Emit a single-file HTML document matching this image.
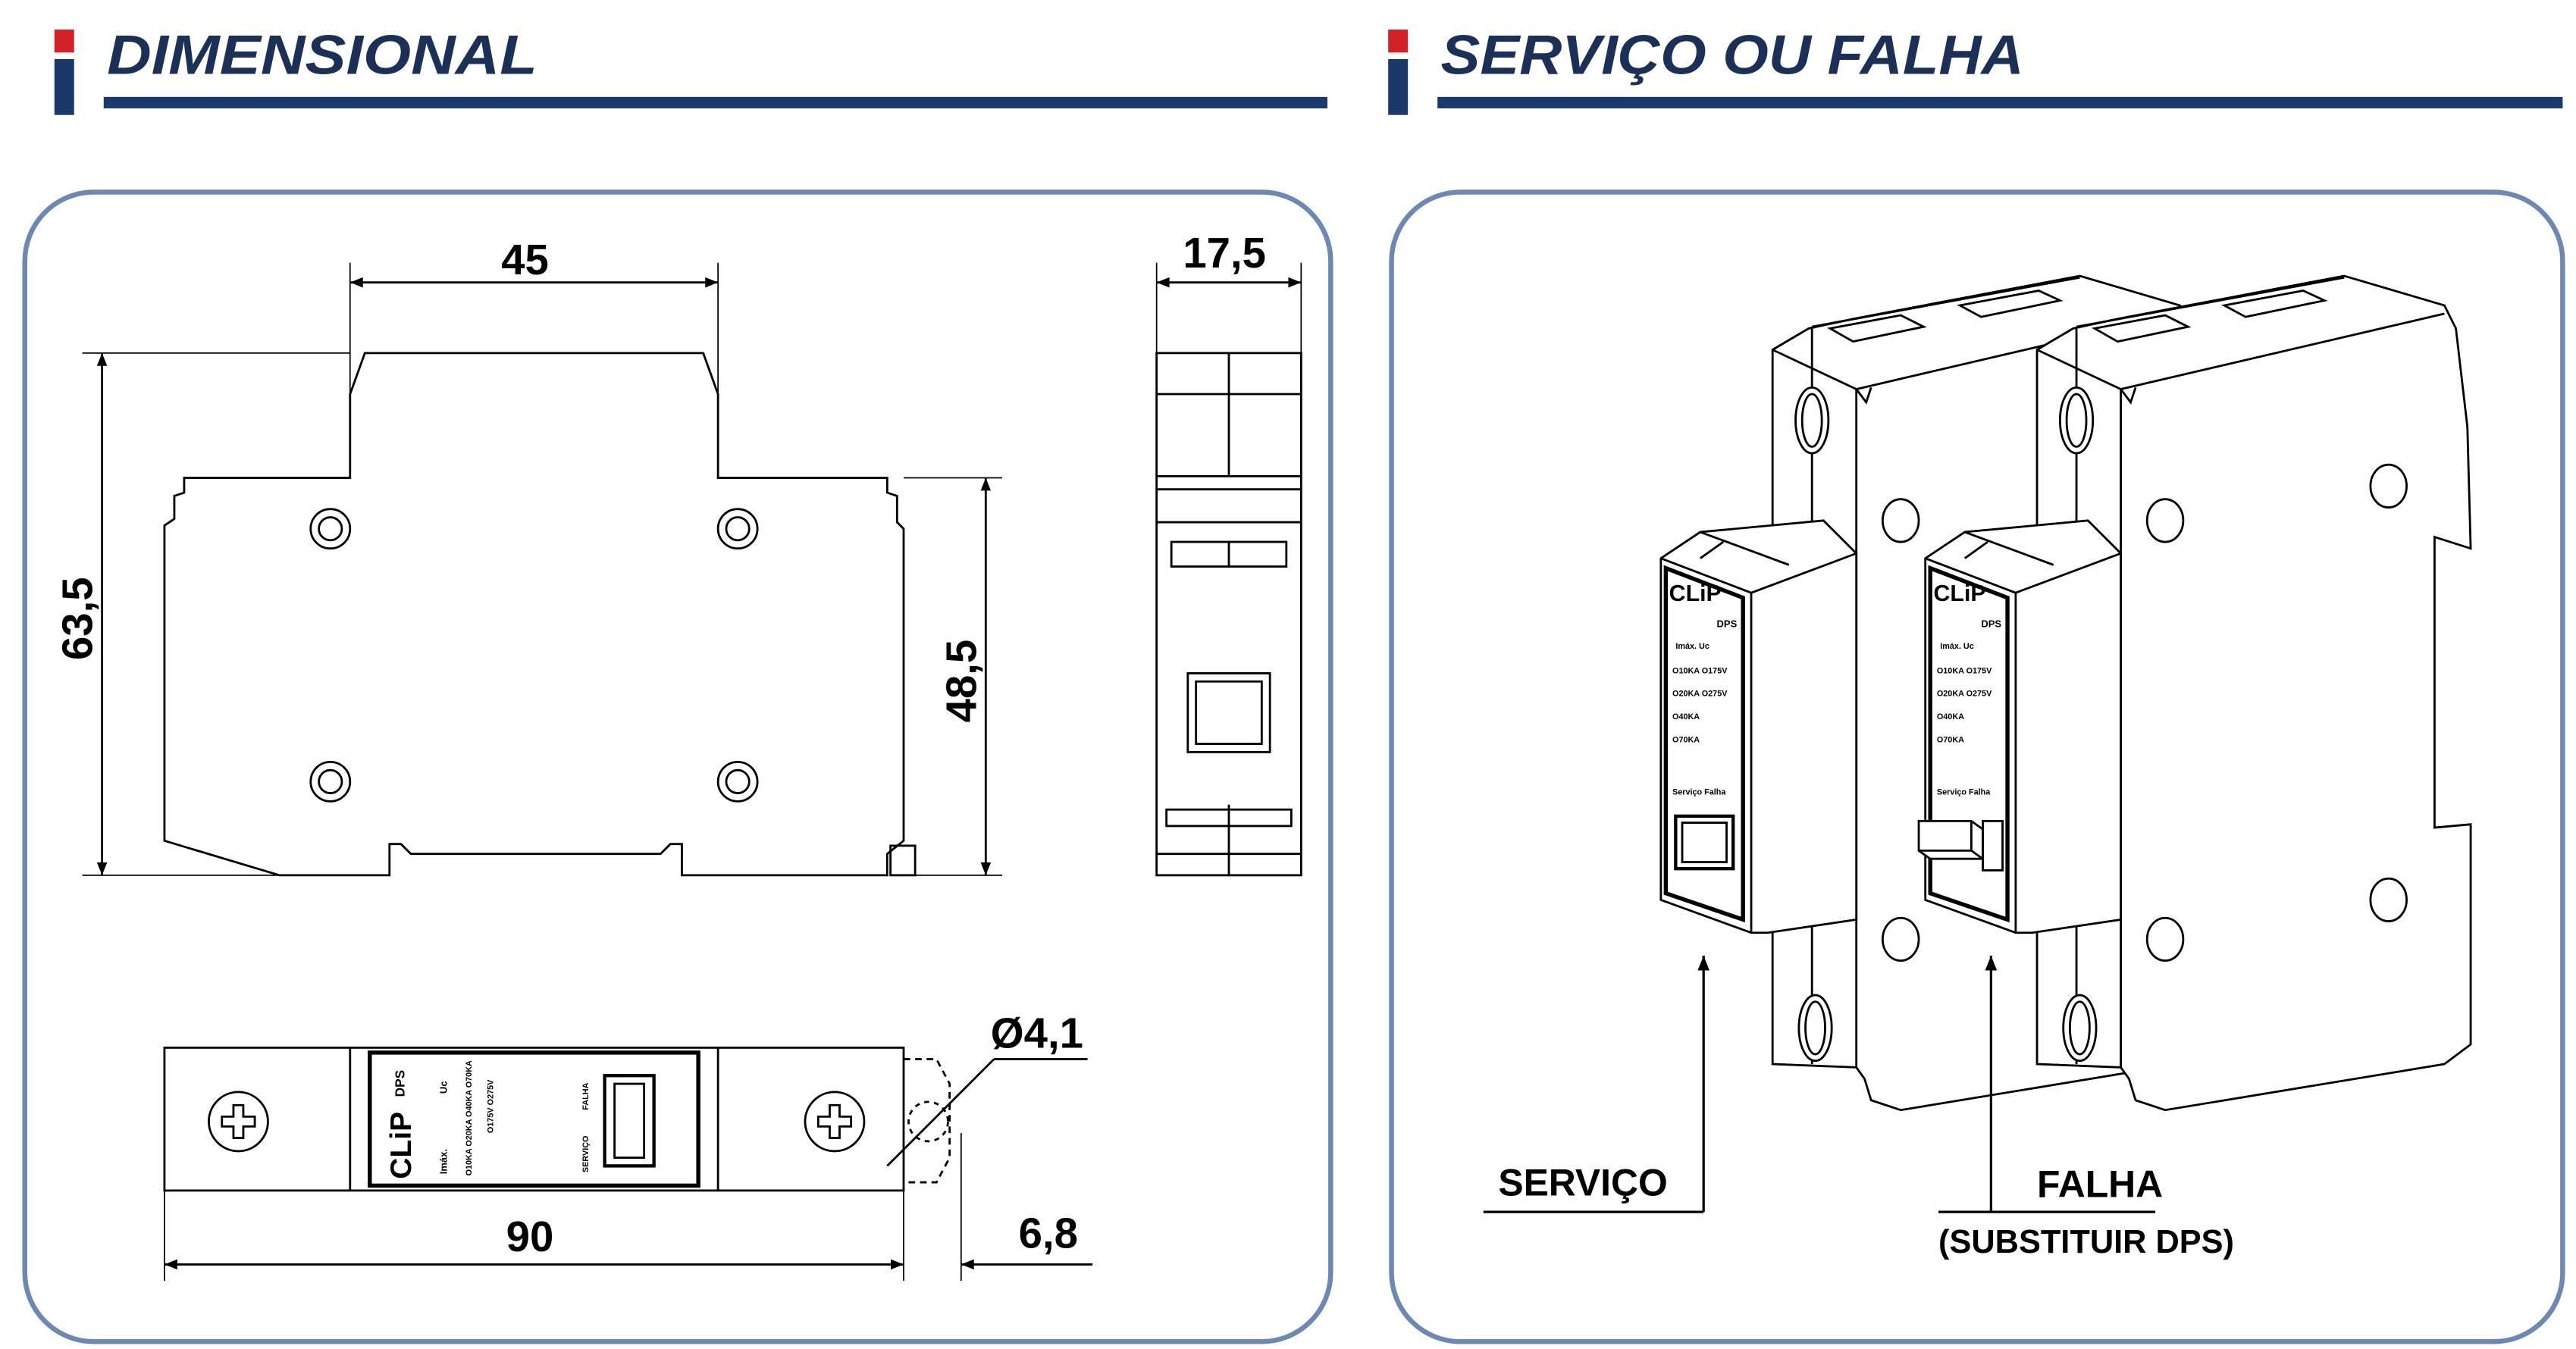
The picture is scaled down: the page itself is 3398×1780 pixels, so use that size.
<!DOCTYPE html>
<html><head><meta charset="utf-8"><style>
html,body{margin:0;padding:0;background:#fff;}
svg{display:block;}
text{font-family:"Liberation Sans",sans-serif;}
</style></head><body>
<svg width="3398" height="1780" viewBox="0 0 1568 821.5" xmlns="http://www.w3.org/2000/svg">
<defs>
<marker id="ar" viewBox="0 0 10 10" refX="10" refY="5" markerWidth="8" markerHeight="6" orient="auto-start-reverse"><path d="M0,1 L10,5 L0,9z" fill="#000"/></marker>
<g id="dev" stroke="#000" stroke-width="1.3" fill="#fff">
<path d="M1240,213 L1262,200 L1290,194 L1427,168 L1488,186 L1495,200 L1502,260 L1504,334 L1482,327 L1482,504 L1504,502 L1504,636 L1488,648 L1318,676 L1300,670 L1296,657 L1291,650 L1240,648 Z"/>
<path d="M1291,237 L1488,191 M1264,199 L1427,169 M1240,213 L1291,237 L1297,245 L1300,236 M1264,199 L1264,648 M1291,237 L1291,650" fill="none"/>
<path d="M1354,186 L1402,177 L1415,183 L1367,193 Z M1275,200 L1318,192 L1332,199 L1289,208 Z" fill="none"/>
<ellipse cx="1264" cy="256" rx="10" ry="20"/><ellipse cx="1264" cy="256" rx="6" ry="16" fill="none"/>
<ellipse cx="1266" cy="626" rx="10" ry="20"/><ellipse cx="1266" cy="626" rx="6" ry="16" fill="none"/>
<ellipse cx="1318" cy="317" rx="11" ry="13"/>
<ellipse cx="1318" cy="572" rx="11" ry="13"/>
<path d="M1172,340 L1196,324 L1271,317 L1291,337 L1291,560 L1237,568 L1227,568 L1172,548 Z"/>
<path d="M1172,340 L1227,361 L1291,337 M1227,361 L1227,568 M1196,324 L1250,344 M1210,330 L1196,340" fill="none"/>
<path d="M1175,346 L1222,364 L1222,560 L1175,544 Z" fill="#fff" stroke-width="2.5"/>
</g>
</defs>
<!-- headers -->
<rect x="33" y="18" width="12" height="14" fill="#d3232a"/><rect x="33" y="36" width="12" height="34" fill="#1b3a6b"/>
<text x="65" y="45" font-size="34" font-weight="bold" font-style="italic" fill="#1b2f57" textLength="262" lengthAdjust="spacingAndGlyphs">DIMENSIONAL</text>
<rect x="63" y="59" width="745" height="7" fill="#1b3a6b"/>
<rect x="845" y="18" width="12" height="14" fill="#d3232a"/><rect x="845" y="36" width="12" height="34" fill="#1b3a6b"/>
<text x="877" y="45" font-size="34" font-weight="bold" font-style="italic" fill="#1b2f57" textLength="355" lengthAdjust="spacingAndGlyphs">SERVIÇO OU FALHA</text>
<rect x="875" y="59" width="685" height="7" fill="#1b3a6b"/>
<!-- panels -->
<rect x="15" y="117" width="795" height="700" rx="42" fill="none" stroke="#6c88b3" stroke-width="3"/>
<rect x="847" y="117" width="713" height="700" rx="42" fill="none" stroke="#6c88b3" stroke-width="3"/>

<g fill="none" stroke="#000" stroke-width="1.3">
<path d="M213,240 L222,215 L428,215 L437,240 L437,291 L540,291 L540,300 L546,302 L546,318 L550,322 L550,512 L540,520 L540,533 L415,533 L415,514 L408,514 L402,520 L250,520 L244,514 L237,514 L237,533 L170,533 L100,512 L100,320 L106,316 L106,302 L112,300 L112,291 L213,291 Z"/>
<rect x="542" y="515" width="15" height="18"/>
<circle cx="201" cy="322" r="12"/><circle cx="201" cy="322" r="7"/>
<circle cx="449" cy="322" r="12"/><circle cx="449" cy="322" r="7"/>
<circle cx="201" cy="476" r="12"/><circle cx="201" cy="476" r="7"/>
<circle cx="449" cy="476" r="12"/><circle cx="449" cy="476" r="7"/>
<line x1="213" y1="160" x2="213" y2="240" stroke-width="0.8"/><line x1="437" y1="160" x2="437" y2="240" stroke-width="0.8"/>
<line x1="213" y1="172" x2="437" y2="172" marker-start="url(#ar)" marker-end="url(#ar)"/>
<line x1="50" y1="215" x2="213" y2="215" stroke-width="0.8"/><line x1="50" y1="533" x2="170" y2="533" stroke-width="0.8"/>
<line x1="62" y1="215" x2="62" y2="533" marker-start="url(#ar)" marker-end="url(#ar)"/>
<line x1="550" y1="291" x2="610" y2="291" stroke-width="0.8"/><line x1="557" y1="533" x2="610" y2="533" stroke-width="0.8"/>
<line x1="600" y1="291" x2="600" y2="533" marker-start="url(#ar)" marker-end="url(#ar)"/>
<rect x="704" y="215" width="88" height="318"/>
<line x1="748" y1="215" x2="748" y2="290"/><line x1="748" y1="490" x2="748" y2="533"/>
<line x1="704" y1="240" x2="792" y2="240"/><line x1="704" y1="290" x2="792" y2="290"/><line x1="704" y1="298" x2="792" y2="298"/><line x1="704" y1="318" x2="792" y2="318"/>
<rect x="713" y="330" width="70" height="15"/><line x1="748" y1="330" x2="748" y2="345"/>
<rect x="723" y="410" width="50" height="48"/><rect x="728" y="415" width="40" height="38"/>
<rect x="710" y="493" width="76" height="10"/><line x1="704" y1="520" x2="792" y2="520"/>
<line x1="704" y1="160" x2="704" y2="215" stroke-width="0.8"/><line x1="792" y1="160" x2="792" y2="215" stroke-width="0.8"/>
<line x1="704" y1="172" x2="792" y2="172" marker-start="url(#ar)" marker-end="url(#ar)"/>
<rect x="100" y="638" width="450" height="87"/>
<line x1="213" y1="638" x2="213" y2="725"/><line x1="437" y1="638" x2="437" y2="725"/>
<rect x="225" y="641" width="200" height="81" stroke-width="2.5"/>
<rect x="368" y="655" width="30" height="55" stroke-width="2"/><rect x="374" y="660" width="18" height="45"/>
<circle cx="145" cy="683" r="18"/><path d="M135,680 h7 v-7 h6 v7 h7 v6 h-7 v7 h-6 v-7 h-7z"/>
<circle cx="508" cy="683" r="18"/><path d="M498,680 h7 v-7 h6 v7 h7 v6 h-7 v7 h-6 v-7 h-7z"/>
<path d="M550,645 L570,645 L578,660 L578,705 L570,720 L550,720" stroke-dasharray="4,3"/>
<circle cx="565" cy="683" r="12" stroke-dasharray="3,3"/>
<line x1="540" y1="710" x2="605" y2="645"/><line x1="605" y1="645" x2="662" y2="645"/>
<line x1="100" y1="725" x2="100" y2="780" stroke-width="0.8"/><line x1="550" y1="725" x2="550" y2="780" stroke-width="0.8"/><line x1="585" y1="690" x2="585" y2="780" stroke-width="0.8"/>
<line x1="100" y1="770" x2="550" y2="770" marker-start="url(#ar)" marker-end="url(#ar)"/>
<line x1="585" y1="770" x2="665" y2="770" marker-start="url(#ar)"/>
</g>
<text x="305" y="167" font-size="26" font-weight="bold">45</text>
<text x="720" y="163" font-size="26" font-weight="bold">17,5</text>
<text font-size="26" font-weight="bold" transform="translate(56,402) rotate(-90)">63,5</text>
<text font-size="26" font-weight="bold" transform="translate(594,440) rotate(-90)">48,5</text>
<text x="308" y="762" font-size="26" font-weight="bold">90</text>
<text x="620" y="760" font-size="26" font-weight="bold">6,8</text>
<text x="603" y="638" font-size="26" font-weight="bold">Ø4,1</text>
<g font-weight="bold" fill="#000">
<text transform="translate(250,718) rotate(-90)" font-size="18">CLiP</text>
<text transform="translate(246,668) rotate(-90)" font-size="8">DPS</text>
<text transform="translate(272,715) rotate(-90)" font-size="6">Imáx.</text><text transform="translate(272,666) rotate(-90)" font-size="6">Uc</text>
<text transform="translate(287,716) rotate(-90)" font-size="5">O10KA O20KA O40KA O70KA</text>
<text transform="translate(300,690) rotate(-90)" font-size="5">O175V O275V</text>
<text transform="translate(358,714) rotate(-90)" font-size="5">SERVIÇO</text><text transform="translate(358,676) rotate(-90)" font-size="5">FALHA</text>
</g>

<!-- right devices -->
<use href="#dev" transform="translate(-161,0)"/>
<use href="#dev"/>
<g stroke="#000" stroke-width="1.3" fill="#fff">
<ellipse cx="1454" cy="296" rx="11" ry="13"/><ellipse cx="1454" cy="548" rx="11" ry="13"/>
<rect x="1020" y="497" width="35" height="32" stroke-width="2"/><rect x="1024" y="501" width="27" height="24" fill="none"/>
<path d="M1168,500 L1200,500 L1207,505 L1207,523 L1175,523 L1168,518 Z" fill="#fff"/><path d="M1200,500 L1200,518 L1168,518 M1200,518 L1207,523" fill="none"/>
<rect x="1207" y="500" width="12" height="30" fill="none"/>
</g>
<g font-weight="bold" fill="#000">
<text x="1016" y="366" font-size="14">CLiP</text><text x="1177" y="366" font-size="14">CLiP</text>
<text x="1045" y="382" font-size="6">DPS</text><text x="1206" y="382" font-size="6">DPS</text>
<text x="1020" y="395" font-size="5">Imáx. Uc</text><text x="1181" y="395" font-size="5">Imáx. Uc</text>
<text x="1018" y="410" font-size="5">O10KA O175V</text><text x="1179" y="410" font-size="5">O10KA O175V</text>
<text x="1018" y="424" font-size="5">O20KA O275V</text><text x="1179" y="424" font-size="5">O20KA O275V</text>
<text x="1018" y="438" font-size="5">O40KA</text><text x="1179" y="438" font-size="5">O40KA</text>
<text x="1018" y="452" font-size="5">O70KA</text><text x="1179" y="452" font-size="5">O70KA</text>
<text x="1018" y="484" font-size="5">Serviço Falha</text><text x="1179" y="484" font-size="5">Serviço Falha</text>
</g>
<g stroke="#000" stroke-width="1.5" fill="none">
<line x1="903" y1="738" x2="1037" y2="738"/><line x1="1037" y1="738" x2="1037" y2="582" marker-end="url(#ar)"/>
<line x1="1180" y1="738" x2="1312" y2="738"/><line x1="1212" y1="738" x2="1212" y2="582" marker-end="url(#ar)"/>
</g>
<text x="912" y="728" font-size="23" font-weight="bold">SERVIÇO</text>
<text x="1240" y="729" font-size="23" font-weight="bold">FALHA</text>
<text x="1180" y="763" font-size="20" font-weight="bold">(SUBSTITUIR DPS)</text>
</svg>
</body></html>
